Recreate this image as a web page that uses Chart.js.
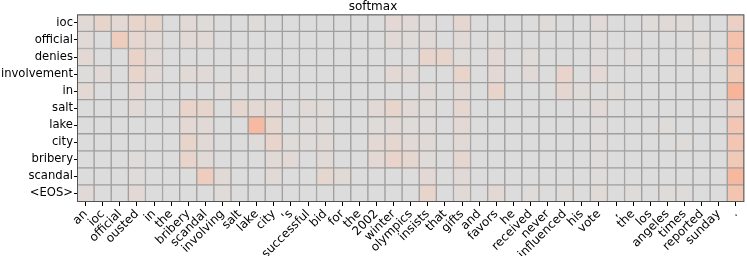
<!DOCTYPE html>
<html>
<head>
<meta charset="utf-8">
<script src="https://cdn.jsdelivr.net/npm/chart.js@4.4.0/dist/chart.umd.min.js"></script>
<style>
  html, body { margin: 0; padding: 0; background: #fff; }
  #wrap { width: 747px; height: 256px; }
</style>
</head>
<body>
<div id="wrap"><canvas id="heat"></canvas></div>
<script>
// source words (x) and output words (y)
const colLabels = ['an','ioc','official','ousted','in','the','bribery','scandal','involving','salt',
  'lake','city',"'s",'successful','bid','for','the','2002','winter','olympics',
  'insists','that','gifts','and','favors','he','received','never','influenced','his',
  'vote',',','the','los','angeles','times','reported','sunday','.'];
const rowLabels = ['ioc','official','denies','involvement','in','salt','lake','city','bribery','scandal','<EOS>'];

// softmax weights, one array per output word
const rowIoc = [.03,.06,.04,.06,.06,.01,.03,.02,.01,.01, .02,.01,.01,.01,.01,.01,.01,.01,.04,.03,
  .02,.01,.05,.01,.01,.01,.01,.02,.01,.01, .03,.01,.01,.02,.03,.02,.01,.01,.09];
const rowOfficial = [.03,.01,.12,.05,.03,.01,.03,.03,.01,.01, .01,.01,.01,.01,.01,.01,.01,.01,.03,.02,
  .03,.01,.03,.01,.02,.01,.01,.01,.01,.01, .02,.01,.01,.01,.01,.01,.02,.01,.22];
const rowDenies = [.04,.01,.01,.08,.03,.01,.01,.01,.01,.01, .01,.01,.01,.01,.01,.01,.01,.01,.01,.01,
  .07,.06,.02,.01,.04,.01,.02,.01,.01,.01, .02,.01,.02,.01,.01,.01,.02,.01,.22];
const rowInvolvement = [.01,.03,.01,.06,.03,.01,.03,.03,.01,.02, .02,.01,.01,.01,.01,.01,.01,.01,.04,.03,
  .01,.01,.07,.01,.04,.01,.03,.01,.07,.01, .04,.01,.01,.01,.01,.01,.01,.01,.14];
const rowIn = [.04,.01,.01,.04,.01,.01,.01,.01,.02,.01, .01,.01,.01,.01,.01,.01,.01,.01,.01,.01,
  .03,.01,.03,.01,.07,.01,.01,.01,.05,.02, .01,.02,.01,.01,.01,.01,.01,.01,.33];
const rowSalt = [.01,.01,.01,.03,.01,.01,.07,.06,.01,.05, .04,.04,.01,.03,.02,.01,.01,.03,.06,.03,
  .02,.01,.05,.01,.01,.01,.01,.01,.01,.01, .03,.01,.01,.01,.01,.01,.01,.01,.09];
const rowLake = [.01,.01,.01,.01,.01,.01,.04,.03,.01,.01, .28,.05,.01,.02,.02,.01,.01,.02,.03,.02,
  .02,.01,.04,.01,.01,.01,.01,.01,.01,.01, .02,.01,.01,.01,.02,.01,.01,.01,.18];
const rowCity = [.01,.01,.01,.01,.01,.01,.06,.03,.01,.01, .02,.07,.02,.02,.03,.01,.01,.04,.05,.03,
  .03,.01,.03,.01,.01,.01,.01,.01,.01,.01, .02,.01,.01,.01,.01,.02,.01,.01,.18];
const rowBribery = [.01,.01,.01,.02,.01,.01,.07,.03,.01,.01, .01,.03,.03,.01,.03,.01,.01,.04,.07,.05,
  .02,.01,.05,.01,.01,.01,.01,.01,.01,.01, .02,.01,.01,.01,.01,.01,.01,.01,.16];
const rowScandal = [.01,.01,.01,.02,.01,.01,.01,.12,.03,.01, .01,.03,.01,.01,.05,.03,.01,.01,.01,.01,
  .04,.01,.03,.01,.01,.01,.01,.01,.01,.01, .02,.01,.01,.01,.01,.01,.01,.01,.30];
const rowEos = [.03,.01,.01,.04,.01,.01,.01,.01,.02,.01, .01,.01,.01,.01,.01,.01,.01,.01,.01,.01,
  .06,.01,.03,.01,.04,.01,.02,.01,.02,.01, .03,.01,.02,.01,.02,.02,.01,.01,.20];

const rows = [rowIoc, rowOfficial, rowDenies, rowInvolvement, rowIn, rowSalt, rowLake, rowCity, rowBribery, rowScandal, rowEos];

// upper half of a coolwarm-like map
const stops = [
  [0.01, [221,220,220]],
  [0.03, [225,217,214]],
  [0.06, [231,213,204]],
  [0.12, [238,205,190]],
  [0.20, [243,196,175]],
  [0.30, [246,184,158]],
  [0.35, [247,178,150]]
];
function colorFor(v) {
  if (v <= stops[0][0]) return 'rgb(' + stops[0][1].join(',') + ')';
  for (let i = 1; i < stops.length; i++) {
    if (v <= stops[i][0]) {
      const a = stops[i-1], b = stops[i];
      const t = (v - a[0]) / (b[0] - a[0]);
      const c = a[1].map((x, k) => Math.round(x + (b[1][k] - x) * t));
      return 'rgb(' + c.join(',') + ')';
    }
  }
  return 'rgb(' + stops[stops.length-1][1].join(',') + ')';
}

const datasets = rows.map((r, i) => ({
  label: rowLabels[i],
  data: r.map(() => 1),
  backgroundColor: r.map(colorFor),
  borderColor: '#9f9f9f',
  borderWidth: 1,
  borderSkipped: false,
  categoryPercentage: 1.0,
  barPercentage: 1.0
}));

const frame = {
  id: 'frame',
  afterDraw(chart) {
    const a = chart.chartArea, ctx = chart.ctx;
    ctx.save();
    ctx.strokeStyle = '#555';
    ctx.lineWidth = 1;
    ctx.strokeRect(a.left + 0.5, a.top + 0.5, a.right - a.left - 1, a.bottom - a.top - 1);
    ctx.restore();
  }
};

Chart.defaults.font.family = 'DejaVu Sans';
Chart.defaults.color = '#000';

new Chart(document.getElementById('heat'), {
  type: 'bar',
  data: { labels: colLabels, datasets: datasets },
  options: {
    responsive: true,
    maintainAspectRatio: false,
    animation: false,
    layout: { padding: { left: 0, right: 1, top: 0, bottom: 0 } },
    plugins: {
      legend: { display: false },
      tooltip: { enabled: false },
      title: {
        display: true,
        text: 'softmax',
        font: { size: 12, weight: 'normal' },
        padding: { top: 0, bottom: 0 }
      }
    },
    scales: {
      x: {
        stacked: true,
        grid: { display: true, drawOnChartArea: false, offset: false, tickLength: 4, color: '#000' },
        border: { display: false },
        ticks: { font: { size: 12 }, minRotation: 45, maxRotation: 45, autoSkip: false, padding: 1 },
        afterFit(scale) { scale.height = 54; }
      },
      y: {
        stacked: true,
        min: 0,
        max: rowLabels.length,
        reverse: true,
        grid: { display: true, drawOnChartArea: false, tickLength: 3, color: '#000' },
        border: { display: false },
        afterBuildTicks(scale) {
          scale.ticks = rowLabels.map((_, i) => ({ value: i + 0.5 }));
        },
        ticks: {
          font: { size: 11.6 },
          padding: 1,
          callback: function (value) { return rowLabels[Math.floor(value)]; }
        },
        afterFit(scale) { scale.width = 77; }
      }
    }
  },
  plugins: [frame]
});
</script>
</body>
</html>
